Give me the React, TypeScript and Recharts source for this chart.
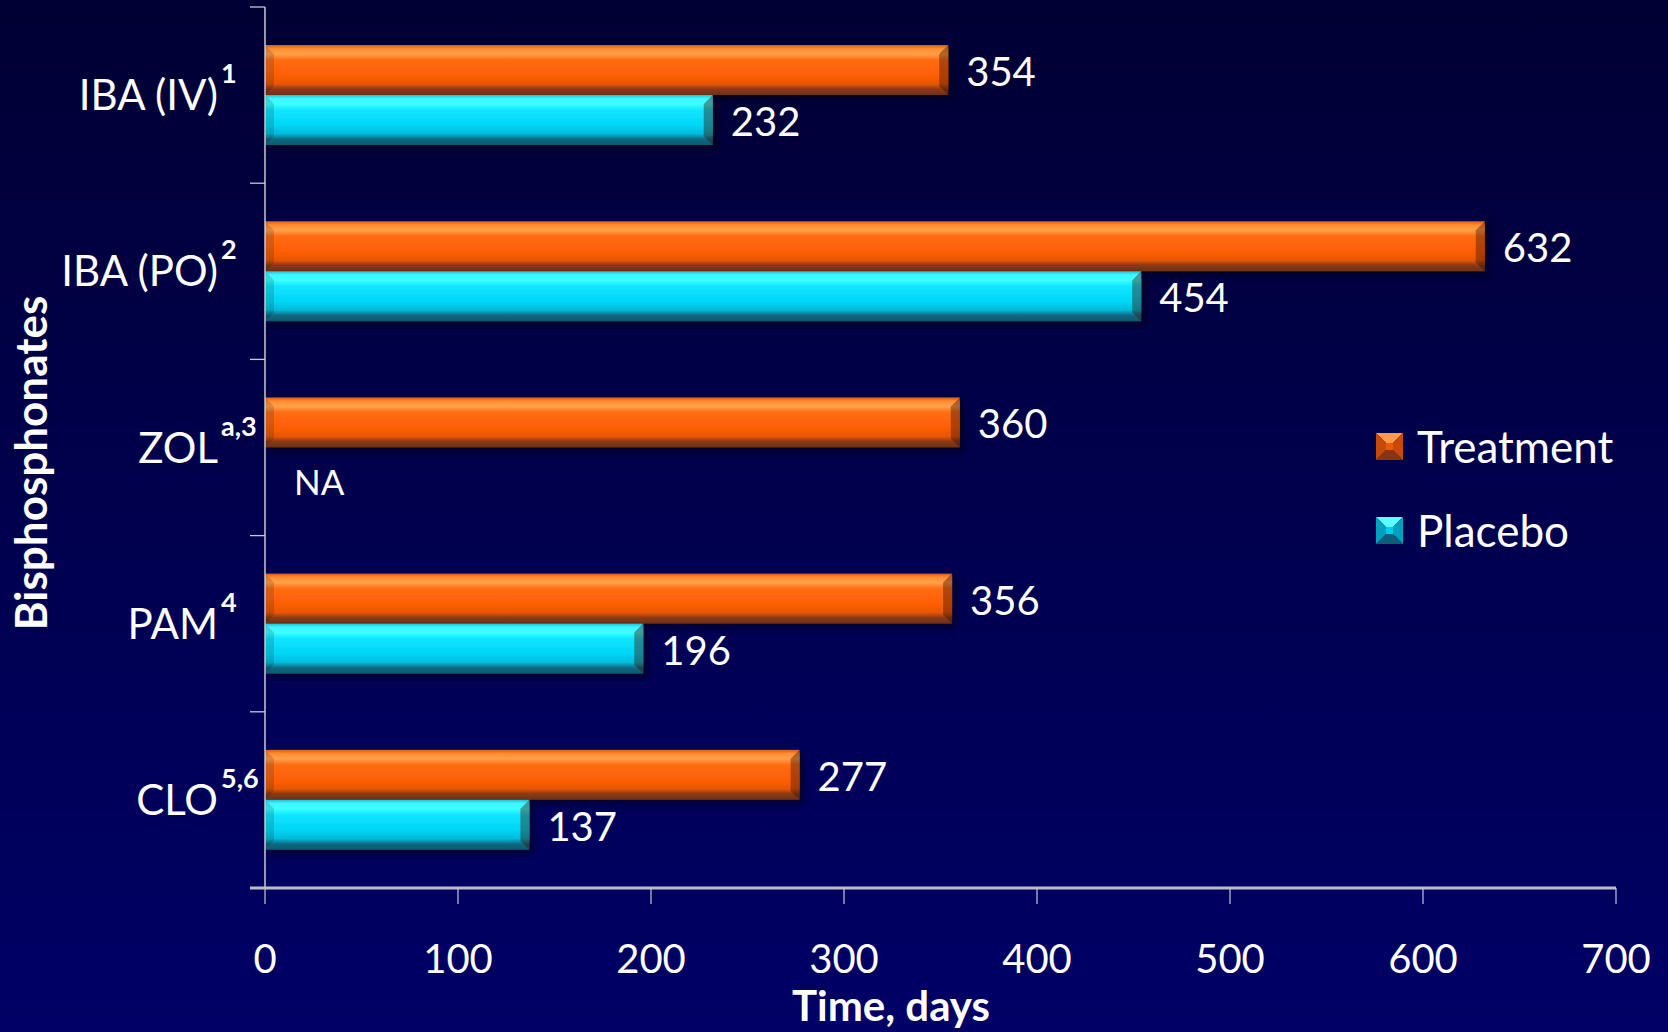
import React from 'react';
import { BarChart, Bar, XAxis, YAxis, LabelList, Legend } from 'recharts';

const categories = ['IBA (IV)', 'IBA (PO)', 'ZOL', 'PAM', 'CLO'];
const superscripts = ['1', '2', 'a,3', '4', '5,6'];
const treatment = [354, 632, 360, 356, 277];
const placebo: (number | null)[] = [232, 454, null, 196, 137];
const xTicks = [0, 100, 200, 300, 400, 500, 600, 700];
const seriesNames = ['Treatment', 'Placebo'];

const data = categories.map((c, i) => ({
  name: c,
  sup: superscripts[i],
  treatment: treatment[i],
  placebo: placebo[i],
}));

const FONT = 'Lato, "Open Sans", sans-serif';
const AXIS = '#C8C8D6';

const CHART_W = 1668;
const CHART_H = 1032;
const MARGIN = { top: 7, right: 52, bottom: 0, left: 0 };
const X_AXIS_H = 144;
const Y_AXIS_W = 265;
const TICK_MARGIN = 47;
const BAND = (CHART_H - MARGIN.top - MARGIN.bottom - X_AXIS_H) / categories.length;

const PAL: Record<string, { stops: [number, string][]; light: string; face: string; dark: string; side: string }> = {
  treatment: {
    stops: [
      [0, '#D85A12'], [0.07, '#FF8A30'], [0.18, '#FFA24C'], [0.3, '#FF6C12'],
      [0.6, '#FF5F05'], [0.78, '#E85606'], [0.88, '#8A3A15'], [1, '#733010'],
    ],
    light: '#FF9A45', face: '#F05A08', dark: '#8A3412', side: '#C84A0A',
  },
  placebo: {
    stops: [
      [0, '#12C4DC'], [0.07, '#40F4FF'], [0.18, '#3CFFFF'], [0.3, '#10E6FF'],
      [0.6, '#00D6F6'], [0.78, '#00BADA'], [0.88, '#126A82'], [1, '#0C5870'],
    ],
    light: '#5CFFFF', face: '#00CDEB', dark: '#0C5E78', side: '#00A0BE',
  },
};

const BevelBar = (props: any) => {
  const { x, y, width, height, kind } = props;
  if (!width || width <= 0 || !height) return null;
  const b = Math.min(9, width / 2, height / 2);
  return (
    <g filter="url(#barShadow)">
      <rect x={x} y={y} width={width} height={height} fill={`url(#grad-${kind})`} />
      <polygon
        points={`${x},${y} ${x + b},${y + b} ${x + b},${y + height - b} ${x},${y + height}`}
        fill="#000" opacity={0.14}
      />
      <polygon
        points={`${x + width},${y} ${x + width - b},${y + b} ${x + width - b},${y + height - b} ${x + width},${y + height}`}
        fill="#3a0f00" opacity={0.4}
      />
    </g>
  );
};

const LegendIcon = ({ kind }: { kind: string }) => {
  const p = PAL[kind];
  const s = 27, b = 10;
  return (
    <svg width={s} height={s} style={{ display: 'block' }}>
      <polygon points={`0,0 ${s},0 ${s - b},${b} ${b},${b}`} fill={p.light} />
      <polygon points={`0,${s} ${s},${s} ${s - b},${s - b} ${b},${s - b}`} fill={p.dark} />
      <polygon points={`0,0 ${b},${b} ${b},${s - b} 0,${s}`} fill={p.side} />
      <polygon points={`${s},0 ${s - b},${b} ${s - b},${s - b} ${s},${s}`} fill={p.side} />
      <rect x={b} y={b} width={s - 2 * b} height={s - 2 * b} fill={p.face} />
    </svg>
  );
};

const renderLegend = () => (
  <div style={{ fontFamily: FONT }}>
    {['treatment', 'placebo'].map((k, i) => (
      <div key={k} style={{ display: 'flex', alignItems: 'center', height: 84 }}>
        <LegendIcon kind={k} />
        <span style={{ color: '#fff', fontSize: 44, marginLeft: 14, lineHeight: '44px' }}>{seriesNames[i]}</span>
      </div>
    ))}
  </div>
);

const CatTick = (props: any) => {
  const { x, y, payload, index } = props;
  const ax = x + TICK_MARGIN;
  return (
    <g>
      <line x1={ax - 15} x2={ax} y1={y - BAND / 2} y2={y - BAND / 2} stroke={AXIS} strokeWidth={1.3} />
      {index === categories.length - 1 && (
        <line x1={ax - 15} x2={ax} y1={y + BAND / 2} y2={y + BAND / 2} stroke="#BDBDC8" strokeWidth={3} />
      )}
      <text x={x} y={y} dy={15} textAnchor="end" fill="#fff" fontSize={42} fontFamily={FONT}>
        {payload.value}
      </text>
      <text x={x + 3} y={y} dy={-12} textAnchor="start" fill="#fff" fontSize={27} fontWeight="bold" fontFamily={FONT}>
        {superscripts[index]}
      </text>
    </g>
  );
};

const ValueLabel = (props: any) => {
  const { x, y, width, height, value, index, series } = props;
  return (
    <g>
      <text x={x + width + 18} y={y + height / 2} dy={16} fill="#fff" fontSize={40} fontFamily={FONT}>
        {value}
      </text>
      {series === 'treatment' && placebo[index] == null && (
        <text x={x + 29} y={y + height + 48} fill="#fff" fontSize={35} fontFamily={FONT}>NA</text>
      )}
    </g>
  );
};

export default function App() {
  return (
    <div
      style={{
        position: 'absolute', left: 0, top: 0, width: CHART_W, height: CHART_H,
        background: 'linear-gradient(to bottom, #000034 0%, #00004E 50%, #000066 100%)',
      }}
    >
      <BarChart
        width={CHART_W}
        height={CHART_H}
        data={data}
        layout="vertical"
        margin={MARGIN}
        barSize={50}
        barGap={0}
      >
        <defs>
          {Object.keys(PAL).map((k) => (
            <linearGradient key={k} id={`grad-${k}`} x1="0" y1="0" x2="0" y2="1">
              {PAL[k].stops.map(([o, c], j) => (
                <stop key={j} offset={o} stopColor={c} />
              ))}
            </linearGradient>
          ))}
          <filter id="barShadow" x="-5%" y="-20%" width="115%" height="160%">
            <feDropShadow dx={4} dy={4} stdDeviation={3} floodColor="#000010" floodOpacity={0.6} />
          </filter>
        </defs>
        <XAxis
          type="number"
          domain={[0, 700]}
          ticks={xTicks}
          interval={0}
          height={X_AXIS_H}
          axisLine={{ stroke: '#BDBDC8', strokeWidth: 3 }}
          tickLine={{ stroke: AXIS, strokeWidth: 1.2 }}
          tickSize={16}
          tickMargin={41}
          tick={{ fill: '#fff', fontSize: 40, fontFamily: FONT }}
          label={{
            content: (p: any) => (
              <text
                x={891}
                y={p.viewBox.y + 133}
                textAnchor="middle"
                fill="#fff"
                fontSize={42}
                fontWeight="bold"
                fontFamily={FONT}
              >
                Time, days
              </text>
            ),
          }}
        />
        <YAxis
          yAxisId="cat"
          type="category"
          dataKey="name"
          width={Y_AXIS_W}
          axisLine={{ stroke: AXIS, strokeWidth: 1.5 }}
          tickLine={false}
          tickSize={0}
          tickMargin={TICK_MARGIN}
          interval={0}
          tick={<CatTick />}
          label={{
            content: () => (
              <text
                transform="translate(30,463) rotate(-90)"
                textAnchor="middle"
                dominantBaseline="central"
                fill="#fff"
                fontSize={44}
                fontWeight="bold"
                fontFamily={FONT}
              >
                Bisphosphonates
              </text>
            ),
          }}
        />
        <Legend
          layout="horizontal"
          verticalAlign="middle"
          align="center"
          content={renderLegend}
          wrapperStyle={{ position: 'absolute', left: 1376, top: 404, width: 290, height: 168 }}
        />
        <Bar
          yAxisId="cat"
          dataKey="treatment"
          name="Treatment"
          isAnimationActive={false}
          shape={(p: any) => <BevelBar {...p} kind="treatment" />}
        >
          <LabelList dataKey="treatment" content={<ValueLabel series="treatment" />} />
        </Bar>
        <Bar
          yAxisId="cat"
          dataKey="placebo"
          name="Placebo"
          isAnimationActive={false}
          shape={(p: any) => <BevelBar {...p} kind="placebo" />}
        >
          <LabelList dataKey="placebo" content={<ValueLabel series="placebo" />} />
        </Bar>
      </BarChart>
    </div>
  );
}
